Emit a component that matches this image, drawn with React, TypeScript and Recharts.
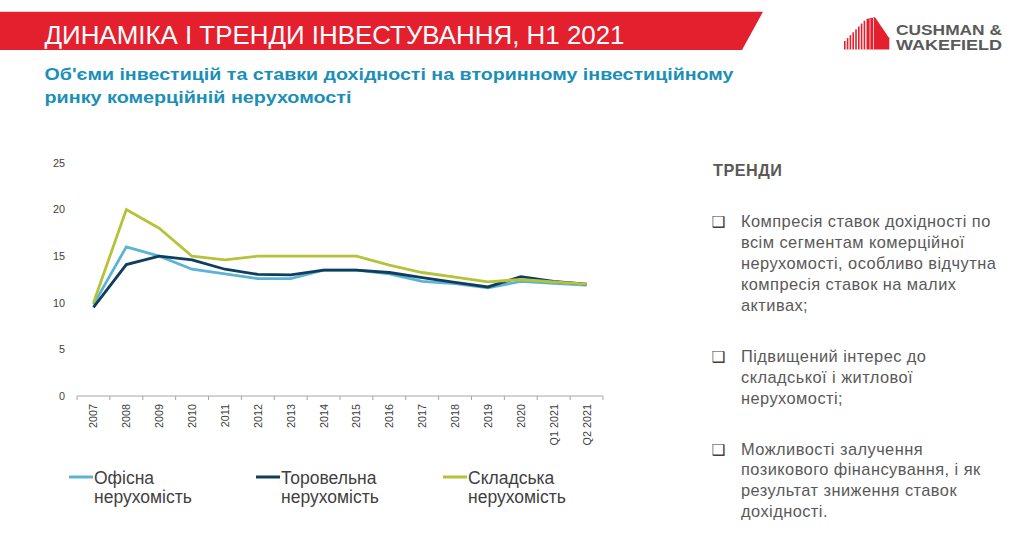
import React from 'react';
import { LineChart, Line, XAxis, YAxis } from 'recharts';

// ---------- data ----------
const categories = ['2007', '2008', '2009', '2010', '2011', '2012', '2013', '2014', '2015', '2016', '2017', '2018', '2019', '2020', 'Q1 2021', 'Q2 2021'];
const officeValues = [9.8, 16, 15, 13.6, 13.1, 12.6, 12.6, 13.5, 13.5, 13.1, 12.3, 12.05, 11.6, 12.3, 12.1, 11.9];
const retailValues = [9.5, 14.1, 15, 14.6, 13.6, 13.05, 13, 13.5, 13.5, 13.25, 12.7, 12.2, 11.7, 12.8, 12.3, 12.0];
const warehouseValues = [10, 20, 18, 15, 14.6, 15, 15, 15, 15, 14.05, 13.25, 12.75, 12.25, 12.5, 12.25, 12.0];
const seriesKeys = ['office', 'retail', 'warehouse'];
const seriesNames = ['Офісна нерухомість', 'Торовельна нерухомість', 'Складська нерухомість'];
const seriesColors = ['#5BB4D3', '#0F3D5E', '#B6C339'];
const yTicks = [0, 5, 10, 15, 20, 25];

const headerTitle = 'ДИНАМІКА І ТРЕНДИ ІНВЕСТУВАННЯ, H1 2021';
const subtitleLines = [
  "Об'єми інвестицій та ставки дохідності на вторинному інвестиційному",
  'ринку комерційній нерухомості',
];
const trendsHeading = 'ТРЕНДИ';
const trendItems = [
  ['Компресія ставок дохідності по', 'всім сегментам комерційної', 'нерухомості, особливо відчутна', 'компресія ставок на малих', 'активах;'],
  ['Підвищений інтерес до', 'складської і житлової', 'нерухомості;'],
  ['Можливості залучення', 'позикового фінансування, і як', 'результат зниження ставок', 'дохідності.'],
];

const data = categories.map((c, i) => ({
  name: c,
  office: officeValues[i],
  retail: retailValues[i],
  warehouse: warehouseValues[i],
}));

// ---------- layout ----------
const CHART_W = 620;
const CHART_H = 316;
const M = { top: 23, right: 17, left: 0, bottom: 0 };
const Y_W = 77;
const PLOT_W = CHART_W - M.left - M.right - Y_W;
const BAND = PLOT_W / categories.length;
const TICK_SIZE = 6;
const TICK_MARGIN = 2;

const FONT = '"Liberation Sans", Arial, Helvetica, sans-serif';
const GREY = '#595959';

const XTick = (props: any) => {
  const { x, y, payload, index } = props;
  const axisY = y - TICK_SIZE - TICK_MARGIN;
  const half = BAND / 2;
  const last = index === categories.length - 1;
  return (
    <g>
      <line x1={x - half} x2={x - half} y1={axisY} y2={axisY + 4} stroke="#A6A6A6" strokeWidth={1} />
      {last && <line x1={x + half} x2={x + half} y1={axisY} y2={axisY + 4} stroke="#A6A6A6" strokeWidth={1} />}
      <text
        x={x}
        y={y}
        transform={`rotate(-90, ${x}, ${y})`}
        textAnchor="end"
        dominantBaseline="central"
        fontSize={10.8}
        fill="#404040"
        fontFamily={FONT}
      >
        {payload.value}
      </text>
    </g>
  );
};

const Logo = () => {
  const stripes = [0, 1, 2, 3, 4, 5, 6, 7];
  return (
    <g>
      {stripes.map((s) => (
        <rect key={s} x={844 + s * 2.8} y={41 - s * 2.9} width={1.6} height={49.5 - (41 - s * 2.9)} fill="#E4202E" />
      ))}
      <polygon points="866.5,19 875,17.3 889.3,38.3 889.3,49.5 866.5,49.5" fill="#E4202E" />
      <line x1={870} x2={870} y1={19} y2={49.5} stroke="#fff" strokeWidth={0.7} />
      <line x1={873.5} x2={873.5} y1={18} y2={49.5} stroke="#fff" strokeWidth={0.7} />
      <text x={896} y={35} fontSize={14} fontWeight={700} fill="#5A5A5A" fontFamily={FONT} textLength={106} lengthAdjust="spacingAndGlyphs">CUSHMAN &amp;</text>
      <text x={896} y={49.5} fontSize={14} fontWeight={700} fill="#5A5A5A" fontFamily={FONT} textLength={106} lengthAdjust="spacingAndGlyphs">WAKEFIELD</text>
    </g>
  );
};

const trendBlockTops = [227.3, 362, 454.6];
const TREND_LH = 20.8;
const legendX = [69, 256, 443];

export default function App() {
  return (
    <div style={{ position: 'absolute', left: 0, top: 0, width: 1024, height: 560, background: '#fff', overflow: 'hidden' }}>
      <svg width={1024} height={560} style={{ position: 'absolute', left: 0, top: 0 }}>
        {/* header banner */}
        <polygon points="0,11.7 763,11.7 742,50 0,50" fill="#E4202E" />
        <text x={44.5} y={43.5} fontSize={25.5} fill="#fff" fontFamily={FONT} textLength={580} lengthAdjust="spacingAndGlyphs">
          {headerTitle}
        </text>
        <Logo />
        {/* subtitle */}
        <text x={44.5} y={80} fontSize={17} fontWeight={700} fill="#1A8FB8" fontFamily={FONT} textLength={689} lengthAdjust="spacingAndGlyphs">
          {subtitleLines[0]}
        </text>
        <text x={44.5} y={103} fontSize={17} fontWeight={700} fill="#1A8FB8" fontFamily={FONT} textLength={307} lengthAdjust="spacingAndGlyphs">
          {subtitleLines[1]}
        </text>
        {/* trends */}
        <text x={713} y={176} fontSize={16.2} fontWeight={700} fill={GREY} fontFamily={FONT} letterSpacing={0.5}>{trendsHeading}</text>
        {trendItems.map((lines, bi) => (
          <g key={bi}>
            <text x={711.5} y={trendBlockTops[bi]} fontSize={15.5} fill="#404040" fontFamily={'"DejaVu Sans", sans-serif'}>❑</text>
            {lines.map((ln, li) => (
              <text key={li} x={741} y={trendBlockTops[bi] + li * TREND_LH} fontSize={16.4} letterSpacing={0.45} fill={GREY} fontFamily={FONT}>
                {ln}
              </text>
            ))}
          </g>
        ))}
        {/* legend */}
        {seriesNames.map((name, i) => {
          const parts = name.split(' ');
          return (
            <g key={name}>
              <line x1={legendX[i]} x2={legendX[i] + 24} y1={477} y2={477} stroke={seriesColors[i]} strokeWidth={3} />
              <text x={legendX[i] + 25} y={483.5} fontSize={17.5} fill="#3F3F3F" fontFamily={FONT}>{parts[0]}</text>
              <text x={legendX[i] + 25} y={503} fontSize={17.5} fill="#3F3F3F" fontFamily={FONT}>{parts.slice(1).join(' ')}</text>
            </g>
          );
        })}
      </svg>
      <div style={{ position: 'absolute', left: 0, top: 140, width: CHART_W, height: CHART_H }}>
        <LineChart width={CHART_W} height={CHART_H} data={data} margin={M}>
          <XAxis
            dataKey="name"
            interval={0}
            height={60}
            padding={{ left: BAND / 2, right: BAND / 2 }}
            tickLine={false}
            tickSize={TICK_SIZE}
            tickMargin={TICK_MARGIN}
            axisLine={{ stroke: '#A6A6A6', strokeWidth: 1 }}
            tick={<XTick />}
          />
          <YAxis
            width={Y_W}
            domain={[0, 25]}
            ticks={yTicks}
            interval={0}
            axisLine={false}
            tickLine={false}
            tickSize={6}
            tickMargin={6}
            tick={{ fontSize: 10.8, fill: '#404040', fontFamily: FONT }}
          />
          {seriesKeys.map((k, i) => (
            <Line
              key={k}
              type="linear"
              dataKey={k}
              name={seriesNames[i]}
              stroke={seriesColors[i]}
              strokeWidth={2.8}
              dot={false}
              activeDot={false}
              isAnimationActive={false}
            />
          ))}
        </LineChart>
      </div>
    </div>
  );
}
